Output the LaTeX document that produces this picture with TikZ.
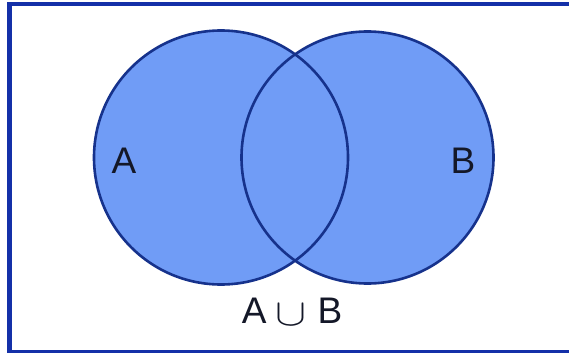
\documentclass[tikz,border=0pt]{standalone}
\usepackage{fontspec}
\setmainfont{Liberation Sans}
\definecolor{setfill}{RGB}{112,156,246}
\definecolor{setedge}{RGB}{22,50,140}
\definecolor{frameblue}{RGB}{20,48,168}
\definecolor{labelink}{RGB}{20,24,40}
\begin{document}
\begin{tikzpicture}[x=1pt,y=-1pt,
  setcircle/.style={fill=setfill},
  setoutline/.style={draw=setedge,line width=2.6pt},
  setlabel/.style={font=\fontsize{37}{40}\selectfont,text=labelink,inner sep=0pt}]
\useasboundingbox (0,0) rectangle (569,353);
\fill[white] (0,0) rectangle (569,353);
% frame
\fill[frameblue] (7,2) rectangle (569,6);
\fill[frameblue] (7,2) rectangle (12,353);
\fill[frameblue] (7,350) rectangle (569,353);
% circles
\coordinate (ca) at (221,157.5);
\coordinate (cb) at (367.5,157.5);
\fill[setcircle] (ca) circle[radius=127pt];
\fill[setcircle] (cb) circle[radius=126pt];
\draw[setoutline] (ca) circle[radius=127pt];
\draw[setoutline] (cb) circle[radius=126pt];
% labels
\node[setlabel] (la) at (124,161) {A};
\node[setlabel] (lb) at (463,160.5) {B};
\node[setlabel] (lu) at (292,312) {A\hspace{9pt}\raisebox{-2pt}{\resizebox{31pt}{21pt}{$\cup$}}\hspace{11pt}B};
\end{tikzpicture}
\end{document}
